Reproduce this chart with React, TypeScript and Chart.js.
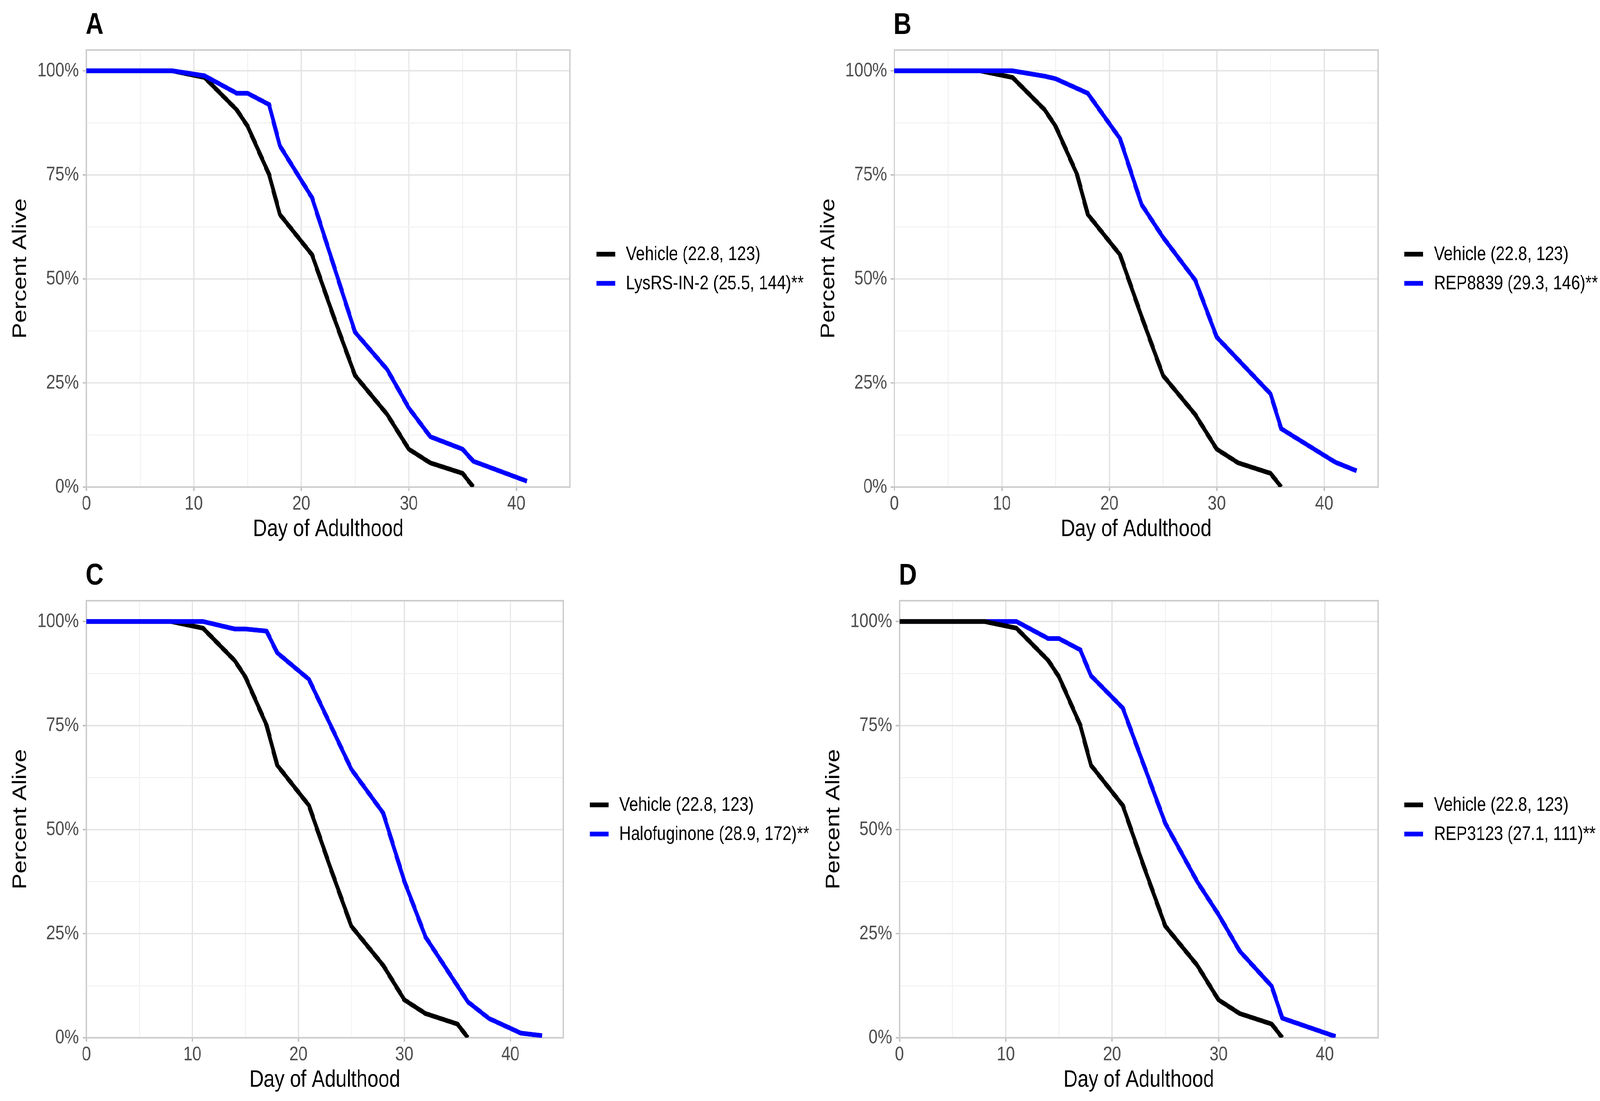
import React, { useEffect, useRef } from 'react';
import { Chart, registerables } from 'chart.js';

Chart.register(...registerables);

// ---------------- data ----------------
const vehicleDays = [0, 8, 11, 14, 15, 17, 18, 21, 23, 25, 28, 30, 32, 35, 36];
const vehicleAlive = [100, 100, 98.4, 90.6, 86.7, 75.1, 65.5, 55.8, 41, 26.8, 17.4, 9.1, 5.8, 3.3, 0];

const lysDays = [0, 8, 11, 14, 15, 17, 18, 21, 25, 28, 30, 32, 35, 36, 41];
const lysAlive = [100, 100, 98.8, 94.6, 94.6, 91.9, 82, 69.5, 37.2, 28.2, 19, 12.1, 9.1, 6.2, 1.4];

const rep8839Days = [0, 8, 11, 14, 15, 18, 21, 23, 25, 28, 30, 35, 36, 41, 43];
const rep8839Alive = [100, 100, 100, 98.7, 98.1, 94.6, 83.7, 67.9, 60, 49.7, 36, 22.4, 14, 6, 3.9];

const haloDays = [0, 8, 11, 14, 15, 17, 18, 21, 25, 28, 30, 32, 36, 38, 41, 43];
const haloAlive = [100, 100, 100, 98.2, 98.2, 97.7, 92.5, 86.1, 64.5, 54, 37.6, 24.2, 8.6, 4.6, 1.1, 0.5];

const rep3123Days = [0, 8, 11, 14, 15, 17, 18, 21, 25, 28, 30, 32, 35, 36, 41];
const rep3123Alive = [100, 100, 100, 95.9, 95.9, 93.2, 87, 79.2, 51.5, 37.5, 29.6, 20.8, 12.4, 4.7, 0.3];

const vehicleLabel = 'Vehicle (22.8, 123)';
const treatmentLabels = [
  'LysRS-IN-2 (25.5, 144)**',
  'REP8839 (29.3, 146)**',
  'Halofuginone (28.9, 172)**',
  'REP3123 (27.1, 111)**',
];
const treatmentDays = [lysDays, rep8839Days, haloDays, rep3123Days];
const treatmentAlive = [lysAlive, rep8839Alive, haloAlive, rep3123Alive];
const panelLetters = ['A', 'B', 'C', 'D'];
const vehicleOnTop = [false, false, false, true];

const xTickValues = [0, 5, 10, 15, 20, 25, 30, 35, 40, 45];
const xLabeledTicks = [0, 10, 20, 30, 40];
const yTickValues = [0, 12.5, 25, 37.5, 50, 62.5, 75, 87.5, 100];
const yLabeledTicks = [0, 25, 50, 75, 100];

// ---------------- layout / style ----------------
const PAGE_W = 4317;
const PAGE_H = 2819;
const STRETCH = 1.15; // reference is stretched vertically
const CANVAS_H = 1217;
const PLOT_TOP = 128 / STRETCH;
const PLOT_BOTTOM = 1247 / STRETCH;
const Y_AXIS_W = 233;
const RIGHT_PAD = 740;

const panelBoxes = [
  { left: 0, top: 0, plotRight: 1538 },
  { left: 2180, top: 0, plotRight: 3718 },
  { left: 0, top: 1410, plotRight: 1520 },
  { left: 2194, top: 1410, plotRight: 3718 },
];

const FONT = '"Liberation Sans", Arial, Helvetica, sans-serif';
const TICK_TEXT = '#4D4D4D';
const GRID_MAJOR = '#E4E4E4';
const GRID_MINOR = '#F1F1F1';
const TICK_MARK = '#BDBDBD';
const BORDER = '#CCCCCC';
const LW = 10.5;
const BLUE = '#0000FF';
const BLACK = '#000000';

const isIn = (list: number[], v: any) =>
  typeof v === 'number' && list.some((m) => Math.abs(m - v) < 1e-6);

// panel border, panel letter and legend keys
const panelDeco = {
  id: 'panelDeco',
  beforeDatasetsDraw(chart: any) {
    const { ctx, chartArea: a } = chart;
    ctx.save();
    ctx.strokeStyle = BORDER;
    ctx.lineWidth = 3.5;
    ctx.strokeRect(a.left, a.top, a.right - a.left, a.bottom - a.top);
    ctx.restore();
  },
  afterDraw(chart: any, _args: any, opts: any) {
    const { ctx, chartArea: a } = chart;
    ctx.save();
    ctx.fillStyle = '#000';
    ctx.font = `bold 67px ${FONT}`;
    ctx.textAlign = 'left';
    ctx.textBaseline = 'alphabetic';
    ctx.fillText(opts.letter, a.left - 2, a.top - 35.6);

    // legend
    const cy = (a.top + a.bottom) / 2;
    const rows = [cy - 32, cy + 33];
    const x0 = a.right + 71;
    chart.data.datasets.forEach((ds: any, i: number) => {
      const y = rows[i];
      ctx.strokeStyle = ds.borderColor;
      ctx.lineWidth = LW;
      ctx.lineCap = 'butt';
      ctx.beginPath();
      ctx.moveTo(x0, y);
      ctx.lineTo(x0 + 51, y);
      ctx.stroke();
      ctx.fillStyle = '#000';
      ctx.font = `43.5px ${FONT}`;
      ctx.textBaseline = 'middle';
      ctx.fillText(ds.label, x0 + 80, y + 1);
    });
    ctx.restore();
  },
};

function buildConfig(idx: number): any {
  const mkLine = (label: string, days: number[], alive: number[], color: string, order: number) => ({
    label,
    data: days.map((d, i) => ({ x: d, y: alive[i] })),
    borderColor: color,
    backgroundColor: color,
    borderWidth: LW,
    borderJoinStyle: 'round',
    borderCapStyle: 'butt',
    pointRadius: 0,
    pointHoverRadius: 0,
    tension: 0,
    fill: false,
    order,
  });
  const vOrder = vehicleOnTop[idx] ? 0 : 1;
  return {
    type: 'line',
    data: {
      datasets: [
        mkLine(vehicleLabel, vehicleDays, vehicleAlive, BLACK, vOrder),
        mkLine(treatmentLabels[idx], treatmentDays[idx], treatmentAlive[idx], BLUE, 1 - vOrder),
      ],
    },
    options: {
      animation: false,
      responsive: false,
      maintainAspectRatio: false,
      devicePixelRatio: 2,
      events: [],
      layout: { padding: { top: PLOT_TOP, left: 0, right: RIGHT_PAD, bottom: 0 } },
      plugins: {
        tooltip: { enabled: false },
        title: { display: false },
        legend: { display: false },
        panelDeco: { letter: panelLetters[idx] },
      },
      scales: {
        x: {
          type: 'linear',
          position: 'bottom',
          min: 0,
          max: 45,
          afterBuildTicks: (s: any) => {
            s.ticks = xTickValues.map((v) => ({ value: v }));
          },
          afterFit: (s: any) => {
            s.height = CANVAS_H - PLOT_BOTTOM;
          },
          ticks: {
            autoSkip: false,
            maxRotation: 0,
            minRotation: 0,
            padding: 3,
            color: TICK_TEXT,
            font: { family: FONT, size: 44 },
            callback: (v: any) => (isIn(xLabeledTicks, Number(v)) ? String(v) : ''),
          },
          grid: {
            display: true,
            drawOnChartArea: true,
            drawTicks: true,
            tickLength: 8.7,
            color: (c: any) => (isIn(xLabeledTicks, c.tick?.value) ? GRID_MAJOR : GRID_MINOR),
            lineWidth: (c: any) => (isIn(xLabeledTicks, c.tick?.value) ? 3.5 : 2.5),
            tickColor: (c: any) => (isIn(xLabeledTicks, c.tick?.value) ? TICK_MARK : 'rgba(0,0,0,0)'),
            tickWidth: 3.5,
          },
          border: { display: false },
          title: {
            display: true,
            text: 'Day of Adulthood',
            color: '#000',
            font: { family: FONT, size: 53 },
            padding: { top: 0, bottom: 6.5 },
          },
        },
        y: {
          type: 'linear',
          position: 'left',
          min: 0,
          max: 105,
          afterBuildTicks: (s: any) => {
            s.ticks = yTickValues.map((v) => ({ value: v }));
          },
          afterFit: (s: any) => {
            s.width = Y_AXIS_W;
          },
          ticks: {
            autoSkip: false,
            padding: 10,
            color: TICK_TEXT,
            font: { family: FONT, size: 44 },
            callback: (v: any) => (isIn(yLabeledTicks, Number(v)) ? `${v}%` : ''),
          },
          grid: {
            display: true,
            drawOnChartArea: true,
            drawTicks: true,
            tickLength: 10,
            color: (c: any) => (isIn(yLabeledTicks, c.tick?.value) ? GRID_MAJOR : GRID_MINOR),
            lineWidth: (c: any) => (isIn(yLabeledTicks, c.tick?.value) ? 3 : 2.2),
            tickColor: (c: any) => (isIn(yLabeledTicks, c.tick?.value) ? TICK_MARK : 'rgba(0,0,0,0)'),
            tickWidth: 3,
          },
          border: { display: false },
          title: {
            display: true,
            text: 'Percent Alive',
            color: '#000',
            font: { family: FONT, size: 53 },
            padding: { top: 24, bottom: 0 },
          },
        },
      },
    },
    plugins: [panelDeco],
  };
}

function Panel({ idx }: { idx: number }) {
  const ref = useRef<HTMLCanvasElement | null>(null);
  const box = panelBoxes[idx];
  const width = box.plotRight - box.left + RIGHT_PAD;
  useEffect(() => {
    if (!ref.current) return;
    const chart = new Chart(ref.current, buildConfig(idx));
    return () => chart.destroy();
  }, [idx]);
  return (
    <div
      style={{
        position: 'absolute',
        left: box.left,
        top: box.top,
        width,
        height: CANVAS_H,
        transform: `scaleY(${STRETCH})`,
        transformOrigin: '0 0',
      }}
    >
      <canvas ref={ref} width={width} height={CANVAS_H} style={{ display: 'block', width, height: CANVAS_H }} />
    </div>
  );
}

export default function App() {
  const vw = typeof window !== 'undefined' ? window.innerWidth || PAGE_W : PAGE_W;
  const vh = typeof window !== 'undefined' ? window.innerHeight || PAGE_H : PAGE_H;
  const sx = vw / PAGE_W;
  const sy = vh / PAGE_H;
  return (
    <div
      style={{
        position: 'fixed',
        left: 0,
        top: 0,
        width: vw,
        height: vh,
        overflow: 'hidden',
        background: '#ffffff',
      }}
    >
      <div
        style={{
          position: 'absolute',
          left: 0,
          top: 0,
          width: PAGE_W,
          height: PAGE_H,
          transform: `scale(${sx}, ${sy})`,
          transformOrigin: '0 0',
          overflow: 'hidden',
          background: '#ffffff',
        }}
      >
        {panelLetters.map((_, i) => (
          <Panel key={i} idx={i} />
        ))}
      </div>
    </div>
  );
}
